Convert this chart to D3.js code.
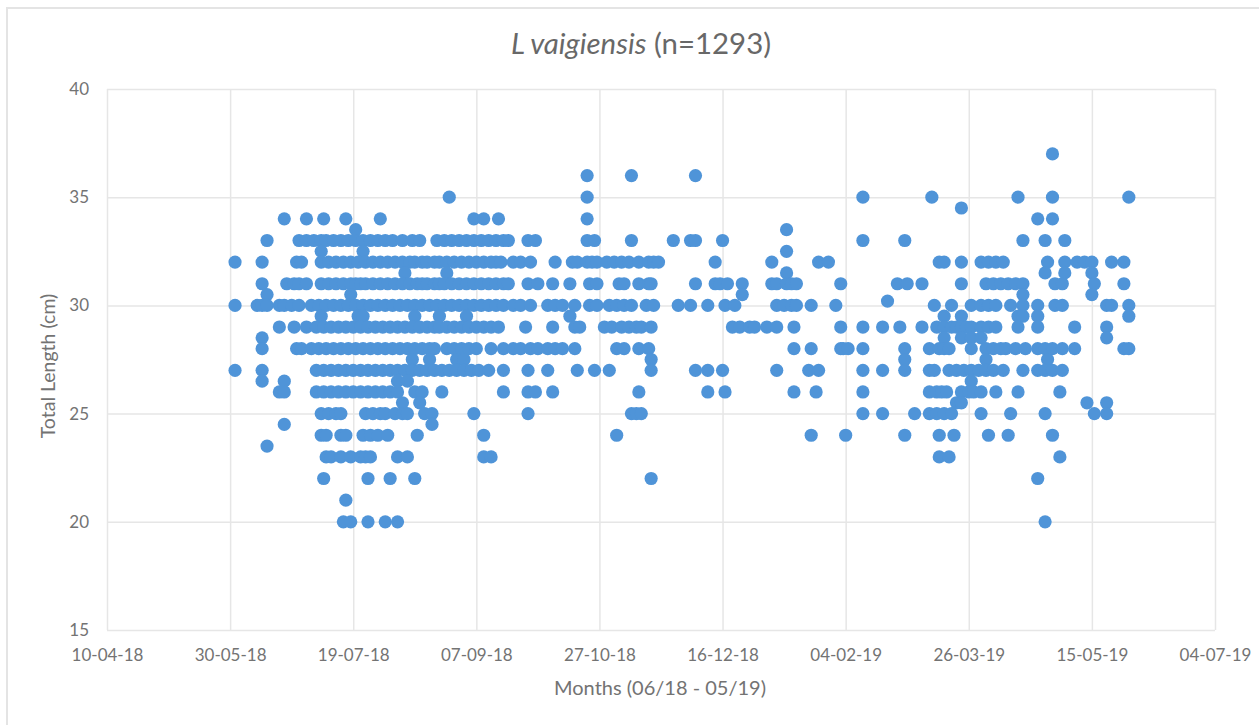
<!DOCTYPE html>
<html>
<head>
<meta charset="utf-8">
<script src="https://cdn.jsdelivr.net/npm/d3@7"></script>
<style>
  body { margin: 0; background: #fff; }
  text { font-family: Lato, "Open Sans", sans-serif; }
</style>
</head>
<body>
<script>
// days counted from 10-04-18 (the left end of the axis)
const len37 = [384];
const len36 = [195, 213, 239];
const len35 = [139, 195, 307, 335, 370, 384, 415];
const len345 = [347];
const len34 = [72, 81, 88, 97, 111, 149, 153, 159, 195, 378, 384];
const len335 = [101, 276];
const len33 = [65, 78, 81, 84, 87, 89, 92, 95, 98, 101, 104, 107, 110, 113, 116, 120, 124, 127, 134, 137, 140, 143, 146, 149, 152, 155, 158, 161, 163, 171, 174, 195, 198, 213, 230, 237, 239, 250, 307, 324, 372, 381, 389];
const len325 = [87, 104, 276];
const len32 = [52, 63, 77, 79, 87, 90, 93, 96, 99, 102, 105, 108, 111, 114, 117, 120, 123, 125, 128, 130, 133, 135, 138, 141, 144, 147, 150, 153, 156, 158, 160, 165, 168, 172, 182, 189, 191, 195, 197, 199, 203, 206, 209, 212, 216, 220, 222, 224, 247, 270, 289, 293, 338, 340, 347, 355, 358, 361, 364, 382, 389, 394, 397, 400, 408, 413];
const len315 = [121, 138, 276, 381, 389, 400];
const len31 = [63, 73, 76, 78, 81, 87, 90, 93, 96, 99, 101, 103, 105, 108, 111, 114, 117, 120, 123, 126, 128, 130, 133, 135, 137, 140, 143, 146, 149, 152, 155, 158, 161, 163, 171, 175, 181, 188, 196, 199, 208, 210, 216, 220, 221, 239, 247, 249, 252, 258, 270, 272, 276, 278, 280, 298, 321, 325, 331, 347, 357, 360, 363, 366, 369, 372, 385, 388, 401, 413];
const len305 = [65, 99, 258, 372, 400];
const len302 = [317];
const len30 = [52, 61, 63, 65, 70, 72, 75, 78, 83, 86, 89, 92, 95, 98, 101, 104, 107, 110, 113, 116, 119, 122, 125, 128, 131, 134, 137, 140, 143, 146, 149, 152, 155, 158, 161, 165, 168, 172, 179, 182, 185, 190, 196, 199, 204, 207, 210, 213, 219, 222, 232, 237, 244, 251, 255, 272, 275, 278, 280, 286, 296, 336, 343, 351, 355, 358, 361, 367, 372, 378, 385, 388, 406, 408, 415];
const len295 = [87, 102, 104, 125, 135, 146, 188, 340, 347, 370, 372, 378, 415];
const len29 = [70, 76, 81, 85, 88, 91, 94, 97, 100, 103, 106, 109, 112, 115, 118, 121, 124, 127, 130, 133, 135, 138, 141, 144, 147, 150, 153, 156, 159, 170, 181, 190, 192, 202, 205, 209, 212, 215, 217, 221, 254, 257, 261, 263, 268, 272, 279, 298, 307, 315, 322, 331, 337, 340, 343, 345, 347, 349, 351, 355, 358, 361, 370, 378, 393, 406];
const len285 = [63, 340, 347, 351, 355, 406];
const len28 = [63, 77, 79, 83, 86, 89, 92, 95, 98, 101, 104, 107, 110, 113, 116, 119, 122, 125, 128, 131, 133, 138, 141, 144, 147, 150, 156, 161, 165, 168, 172, 175, 179, 182, 185, 190, 207, 210, 216, 220, 279, 286, 298, 299, 301, 307, 324, 334, 338, 340, 342, 351, 357, 360, 363, 365, 369, 373, 378, 381, 384, 388, 393, 413, 415];
const len275 = [124, 131, 142, 145, 221, 324, 357, 382];
const len27 = [52, 63, 85, 88, 91, 94, 97, 100, 103, 106, 109, 112, 115, 118, 121, 124, 127, 130, 133, 136, 139, 142, 145, 148, 151, 155, 161, 171, 179, 191, 198, 204, 221, 239, 244, 250, 272, 285, 289, 307, 315, 324, 334, 336, 342, 345, 348, 351, 354, 357, 360, 364, 372, 378, 381, 384, 388];
const len265 = [63, 72, 118, 122, 351];
const len26 = [70, 72, 85, 88, 91, 94, 97, 100, 103, 106, 109, 112, 115, 118, 125, 128, 136, 161, 171, 174, 181, 216, 244, 251, 279, 288, 307, 334, 337, 339, 341, 347, 350, 352, 355, 361, 370, 387];
const len255 = [120, 127, 345, 347, 398, 406];
const len25 = [87, 90, 93, 95, 105, 108, 111, 113, 117, 120, 122, 129, 132, 149, 171, 213, 215, 217, 307, 315, 328, 334, 337, 340, 343, 355, 367, 381, 401, 406];
const len245 = [72, 132];
const len24 = [87, 89, 95, 97, 104, 107, 110, 114, 126, 153, 207, 286, 300, 324, 338, 344, 358, 366, 384];
const len235 = [65];
const len23 = [89, 91, 95, 99, 103, 105, 107, 118, 122, 153, 156, 338, 342, 387];
const len22 = [88, 106, 115, 125, 221, 378];
const len21 = [97];
const len20 = [96, 99, 106, 113, 118, 381];

const lengths = [37, 36, 35, 34.5, 34, 33.5, 33, 32.5, 32, 31.5, 31, 30.5, 30.2, 30, 29.5, 29, 28.5, 28, 27.5, 27, 26.5, 26, 25.5, 25, 24.5, 24, 23.5, 23, 22, 21, 20];
const daysByLength = [len37, len36, len35, len345, len34, len335, len33, len325, len32, len315, len31, len305, len302, len30, len295, len29, len285, len28, len275, len27, len265, len26, len255, len25, len245, len24, len235, len23, len22, len21, len20];

const xTickDays = [0, 50, 100, 150, 200, 250, 300, 350, 400, 450];
const xTickLabels = ['10-04-18', '30-05-18', '19-07-18', '07-09-18', '27-10-18', '16-12-18', '04-02-19', '26-03-19', '15-05-19', '04-07-19'];
const yTicks = [15, 20, 25, 30, 35, 40];

const W = 1259;
const H = 725;
const margin = { t: 89, b: 95, l: 107, r: 44 };
const w = W - margin.l - margin.r;
const h = H - margin.t - margin.b;

const points = lengths.flatMap((len, i) => daysByLength[i].map(day => ({ day, len })));

const svg = d3.select('body').append('svg').
attr('width', W).
attr('height', H).
style('display', 'block');

// chart frame, cut off by the screenshot on the right and at the bottom
svg.append('path').
attr('d', 'M7,' + H + 'V8H' + W).
attr('fill', 'none').
attr('stroke', '#e4e4e4').
attr('stroke-width', 2);

const xScale = d3.scaleLinear().domain([0, 450]).range([0, w]);
const yScale = d3.scaleLinear().domain([15, 40]).range([h, 0]);

const plot = svg.append('g').attr('transform', 'translate(' + margin.l + ',' + margin.t + ')');

const xAxis = d3.axisBottom(xScale).
tickValues(xTickDays).
tickSize(-h).
tickPadding(19).
tickFormat((d, i) => xTickLabels[i]);

const yAxis = d3.axisLeft(yScale).
tickValues(yTicks).
tickSize(-w).
tickPadding(18);

const gx = plot.append('g').attr('transform', 'translate(0,' + h + ')').call(xAxis);
const gy = plot.append('g').call(yAxis);

gx.selectAll('.domain').remove();
gy.selectAll('.domain').remove();
plot.selectAll('.tick line').attr('stroke', '#e6e6e6').attr('stroke-width', 1.5);
plot.selectAll('.tick text').attr('fill', '#737373').style('font-size', '17px');

plot.selectAll('circle').
data(points).
enter().
append('circle').
attr('cx', d => xScale(d.day)).
attr('cy', d => yScale(d.len)).
attr('r', 6.6).
style('fill', '#4f94d8');

const title = svg.append('text').
attr('x', 641).
attr('y', 54).
attr('text-anchor', 'middle').
attr('fill', '#686868').
style('font-size', '29.4px');

title.append('tspan').style('font-style', 'italic').text('L vaigiensis');
title.append('tspan').text(' (n=1293)');

svg.append('text').
attr('x', 660).
attr('y', 695).
attr('text-anchor', 'middle').
attr('fill', '#737373').
style('font-size', '20px').
text('Months (06/18 - 05/19)');

svg.append('text').
attr('transform', 'translate(55,366) rotate(-90)').
attr('text-anchor', 'middle').
attr('fill', '#737373').
style('font-size', '19.5px').
text('Total Length (cm)');
</script>
</body>
</html>
